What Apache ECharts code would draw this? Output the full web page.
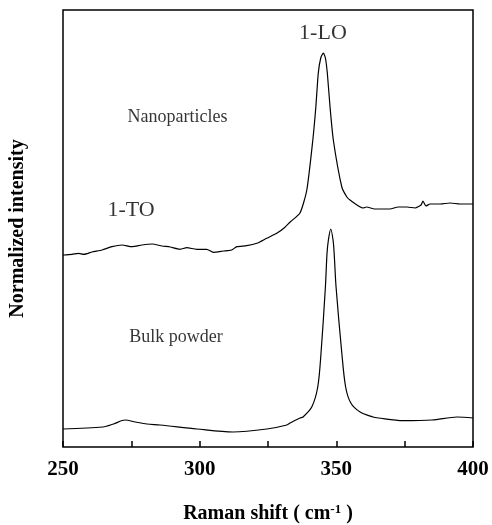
<!DOCTYPE html>
<html>
<head>
<meta charset="utf-8">
<script src="https://cdn.jsdelivr.net/npm/echarts@6/dist/echarts.min.js"></script>
<style>
  html, body { margin: 0; padding: 0; background: #fff; }
  #chart { width: 492px; height: 525px; }
</style>
</head>
<body>
<div id="chart"></div>
<script>
  // Raman shift (cm-1) and intensity (arbitrary units)
  var nanoShift = [250, 253.3, 255.7, 257.6, 260.6, 264.3, 267.9, 271.6, 275.2, 278.9,
    282.6, 286.2, 289.2, 292.8, 295.3, 298.9, 302.6, 305, 308.7, 311.7,
    313.6, 317.2, 320.9, 324.5, 328.2, 331, 333.1, 336.7, 339.2, 341.4,
    342.5, 343.4, 344.3, 345.25, 346, 346.7, 347.7, 348.9, 352, 353.8,
    355, 359.8, 361.1, 364, 369.6, 372.6, 375.9, 378.8, 381, 381.7,
    382.8, 384.3, 388, 391.6, 395.3, 400];
  var nanoIntensity = [192, 192.7, 193.7, 192.7, 195, 197, 200.3, 202, 200.3, 202,
    203, 201, 200, 197.7, 199.3, 197.7, 197.7, 194.7, 196, 197,
    200.3, 201.3, 203.7, 208.7, 213.7, 219.3, 225, 234, 257, 307,
    340, 374, 389, 394, 389, 374, 340, 307, 260, 250.3,
    247, 239, 240, 238, 238, 240, 240, 239, 242, 246,
    241, 243, 243, 244, 243, 243];

  var bulkShift = [250, 264.6, 268.5, 272.7, 276.5, 280.7, 285.5, 299, 312.2, 324.6,
    331.9, 333.1, 336.7, 337.8, 341, 343.2, 344.4, 346, 346.6, 347.1,
    347.95, 348.8, 349.2, 349.9, 352, 353.4, 355.3, 358.7, 363.4, 365.4,
    374.4, 385, 394.2, 400];
  var bulkIntensity = [18, 20, 23, 27, 25, 23, 22, 18, 15, 18,
    22, 24, 29, 30, 40, 60, 94, 160, 194, 207,
    218, 207, 194, 160, 94, 60, 44, 35, 30, 29,
    26.3, 27, 30, 29];

  var notes = [
    { name: '1-LO', value: [345.1, 414], size: 22 },
    { name: 'Nanoparticles', value: [291.9, 330], size: 18 },
    { name: '1-TO', value: [274.9, 237], size: 22 },
    { name: 'Bulk powder', value: [291.3, 110], size: 18 }
  ];

  var xTickLabels = ['250', '300', '350', '400'];

  var serif = '"Liberation Serif", "DejaVu Serif", serif';

  function pairs(xs, ys) {
    return xs.map(function (x, i) { return [x, ys[i]]; });
  }

  var chart = echarts.init(document.getElementById('chart'));

  chart.setOption({
    animation: false,
    backgroundColor: '#fff',
    grid: {
      left: 63, right: 19, top: 10, bottom: 78,
      outerBoundsMode: 'none',
      containLabel: false,
      show: true, borderColor: '#000', borderWidth: 1.5
    },
    xAxis: {
      type: 'value',
      min: 250, max: 400, interval: 25,
      name: 'Raman shift ( cm{sup|-1} )',
      nameLocation: 'middle',
      nameGap: 56,
      nameTextStyle: {
        fontFamily: serif, fontWeight: 'bold', fontSize: 20, color: '#000',
        rich: {
          sup: { fontFamily: serif, fontWeight: 'bold', fontSize: 13, color: '#000', verticalAlign: 'top', padding: [0, 0, 8, 0] }
        }
      },
      axisLine: { show: false },
      axisTick: { show: true, inside: true, length: 6, lineStyle: { color: '#000', width: 1.5 } },
      splitLine: { show: false },
      axisLabel: {
        margin: 12,
        fontFamily: serif, fontWeight: 'bold', fontSize: 21, color: '#000',
        formatter: function (v) {
          var s = String(v);
          return xTickLabels.indexOf(s) >= 0 ? s : '';
        }
      }
    },
    yAxis: {
      type: 'value',
      min: 0, max: 437,
      name: 'Normalized intensity',
      nameLocation: 'middle',
      nameGap: 35,
      nameTextStyle: { fontFamily: serif, fontWeight: 'bold', fontSize: 20, color: '#000' },
      axisLine: { show: false },
      axisTick: { show: false },
      axisLabel: { show: false },
      splitLine: { show: false }
    },
    series: [
      {
        name: 'Nanoparticles',
        type: 'line',
        data: pairs(nanoShift, nanoIntensity),
        showSymbol: false,
        smooth: 0.2,
        lineStyle: { color: '#000', width: 1.2 }
      },
      {
        name: 'Bulk powder',
        type: 'line',
        data: pairs(bulkShift, bulkIntensity),
        showSymbol: false,
        smooth: 0.3,
        lineStyle: { color: '#000', width: 1.2 }
      },
      {
        type: 'scatter',
        symbolSize: 0,
        silent: true,
        data: notes.map(function (n) {
          return {
            name: n.name,
            value: n.value,
            label: { fontSize: n.size, color: '#000' }
          };
        }),
        label: {
          show: true,
          position: 'inside',
          formatter: '{b}',
          fontFamily: serif,
          color: '#000',
          textBorderWidth: 0
        }
      }
    ]
  });
</script>
</body>
</html>
